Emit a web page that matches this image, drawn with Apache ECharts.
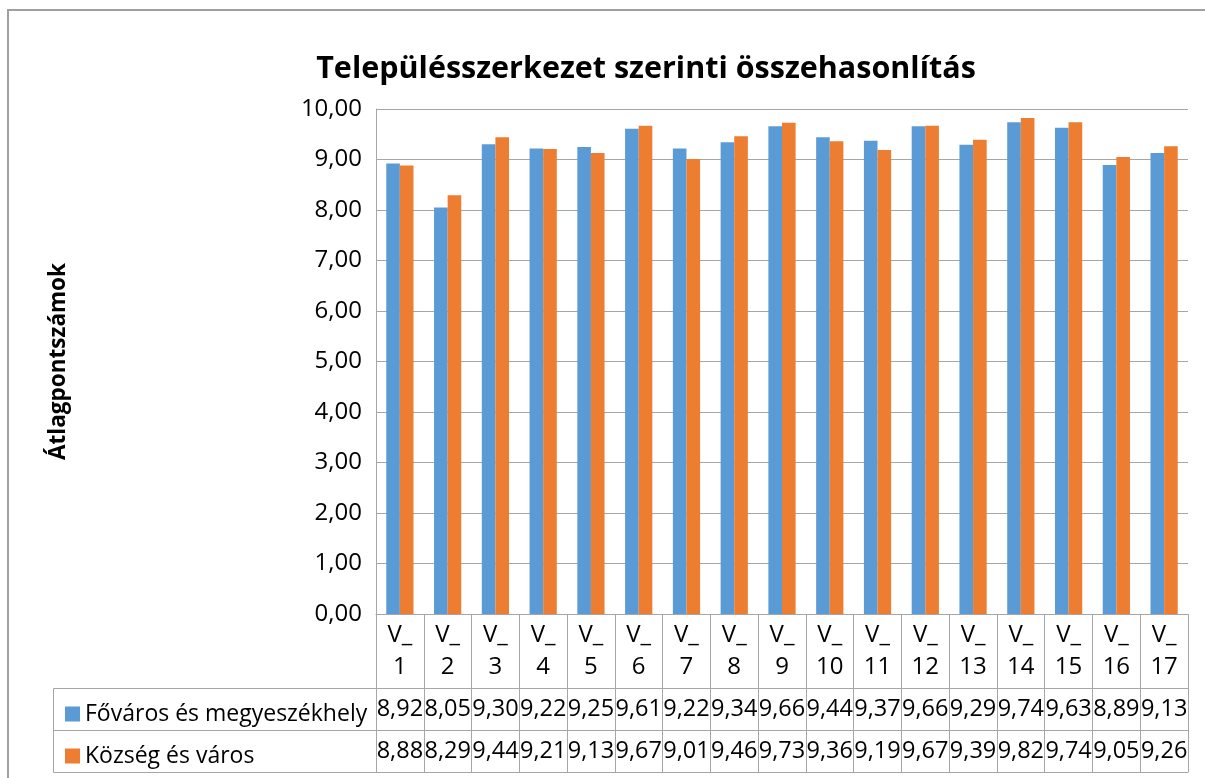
<!DOCTYPE html>
<html>
<head>
<meta charset="utf-8">
<script src="https://cdn.jsdelivr.net/npm/echarts@6/dist/echarts.min.js"></script>
<style>
  html, body { margin: 0; padding: 0; background: #fff; }
  #chart { width: 1205px; height: 778px; }
</style>
</head>
<body>
<div id="chart"></div>
<script>
// Questions V_1 … V_17 and the average score of each settlement group
const categories = ['V_\n1','V_\n2','V_\n3','V_\n4','V_\n5','V_\n6','V_\n7','V_\n8','V_\n9',
  'V_\n10','V_\n11','V_\n12','V_\n13','V_\n14','V_\n15','V_\n16','V_\n17'];
const seriesNames = ['Főváros és megyeszékhely', 'Község és város'];
const capitalValues = [8.92, 8.05, 9.30, 9.22, 9.25, 9.61, 9.22, 9.34, 9.66, 9.44, 9.37, 9.66, 9.29, 9.74, 9.63, 8.89, 9.13];
const townValues    = [8.88, 8.29, 9.44, 9.21, 9.13, 9.67, 9.01, 9.46, 9.73, 9.36, 9.19, 9.67, 9.39, 9.82, 9.74, 9.05, 9.26];
const yTicks = [0, 1, 2, 3, 4, 5, 6, 7, 8, 9, 10];

const FONT = '"Open Sans", "Noto Sans", sans-serif';
const GRID = '#a6a6a6';
const fmt = v => Number(v).toFixed(2).replace('.', ',');

const chart = echarts.init(document.getElementById('chart'));

// one axis per data-table row, stacked under the category row
function tableRow(values, offset) {
  return {
    type: 'category', data: categories, position: 'bottom', offset: offset,
    axisLine: { show: true, lineStyle: { color: GRID, width: 1 } },
    axisTick: { show: true, length: 42, lineStyle: { color: GRID } },
    axisLabel: {
      interval: 0, margin: 0, lineHeight: 42, fontSize: 23.5, fontFamily: FONT, color: '#000',
      formatter: (val, idx) => fmt(values[idx])
    },
    splitLine: { show: false }
  };
}

chart.setOption({
  animation: false,
  title: {
    text: 'Településszerkezet szerinti összehasonlítás',
    left: 641, top: 49, textAlign: 'center',
    textStyle: { fontFamily: FONT, fontSize: 30.5, fontWeight: 'bold', color: '#000' }
  },
  legend: {
    orient: 'vertical', left: 60, top: 695,
    itemWidth: 15, itemHeight: 15, itemGap: 14, icon: 'rect',
    textStyle: { fontFamily: FONT, fontSize: 23, color: '#000', lineHeight: 28 },
    data: seriesNames
  },
  grid: { left: 376, right: 17, top: 109, bottom: 164, containLabel: false },
  xAxis: [
    {
      type: 'category', data: categories, position: 'bottom',
      axisLine: { show: true, lineStyle: { color: GRID, width: 1 } },
      axisTick: { show: true, length: 74, lineStyle: { color: GRID } },
      axisLabel: { interval: 0, margin: 5, lineHeight: 32, fontSize: 24, fontFamily: FONT, color: '#000' }
    },
    tableRow(capitalValues, 74),
    tableRow(townValues, 116),
    {
      type: 'category', data: categories, position: 'bottom', offset: 158,
      axisLine: { show: true, lineStyle: { color: GRID, width: 1 } },
      axisTick: { show: false }, axisLabel: { show: false }
    }
  ],
  yAxis: {
    type: 'value', min: yTicks[0], max: yTicks[yTicks.length - 1], interval: 1,
    name: 'Átlagpontszámok', nameLocation: 'middle', nameRotate: 90, nameGap: 306,
    nameTextStyle: { fontFamily: FONT, fontSize: 22.5, fontWeight: 'bold', color: '#000' },
    axisLine: { show: true, lineStyle: { color: GRID, width: 1 } },
    axisTick: { show: false },
    axisLabel: { margin: 14, fontSize: 24, fontFamily: FONT, color: '#000', formatter: v => fmt(v) },
    splitLine: { lineStyle: { color: GRID, width: 1 } }
  },
  series: [
    { name: seriesNames[0], type: 'bar', data: capitalValues, barGap: '0%', barCategoryGap: '43%',
      itemStyle: { color: '#5b9bd5' } },
    { name: seriesNames[1], type: 'bar', data: townValues, barGap: '0%', barCategoryGap: '43%',
      itemStyle: { color: '#ed7d31' } }
  ],
  graphic: [
    // outer chart frame (top and left edges)
    { type: 'polyline', silent: true,
      shape: { points: [[8, 778], [8, 10], [1205, 10]] },
      style: { stroke: '#a0a0a0', lineWidth: 2, fill: null } },
    // legend cells of the data table
    { type: 'rect', silent: true,
      shape: { x: 53.5, y: 688.5, width: 323, height: 84 },
      style: { stroke: GRID, lineWidth: 1, fill: null } },
    { type: 'line', silent: true,
      shape: { x1: 53.5, y1: 730.5, x2: 376.5, y2: 730.5 },
      style: { stroke: GRID, lineWidth: 1 } }
  ]
});
</script>
</body>
</html>
